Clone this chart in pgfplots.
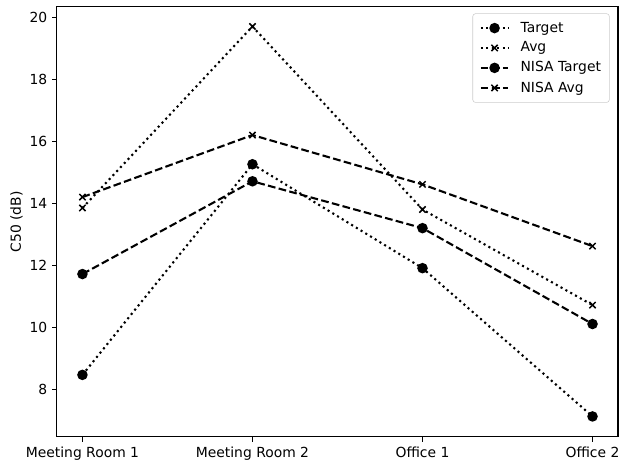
\documentclass[border=0pt]{standalone}
\usepackage{fontspec}
\setmainfont{DejaVu Sans}
\usepackage{pgfplots}
\pgfplotsset{compat=1.18}
\begin{document}
\begin{tikzpicture}
\begin{axis}[
  scale only axis,
  width=404pt, height=309.6pt,
  xmin=-0.15, xmax=3.15,
  ymin=6.47, ymax=20.33,
  xtick={0,1,2,3},
  xticklabels={Meeting Room 1,Meeting Room 2,Office 1,Office 2},
  ytick={8,10,12,14,16,18,20},
  tick align=outside,
  tick pos=left,
  major tick length=3.5pt,
  tick style={black, line width=0.8pt},
  axis line style={line width=0.8pt},
  /pgf/number format/assume math mode=true,
  ticklabel style={font=\fontsize{10}{12}\selectfont},
  ylabel={C50 (dB)},
  ylabel style={font=\fontsize{10}{12}\selectfont},
  ylabel shift=-2pt,
  legend style={at={(0.985,0.985)}, anchor=north east, draw=black!20, rounded corners=2pt,
    font=\fontsize{10}{12}\selectfont, row sep=3.5pt, inner xsep=5pt, inner ysep=5pt,
    nodes={inner sep=1pt},
    /tikz/every odd column/.append style={column sep=7pt}},
  legend cell align=left,
  legend image code/.code={\draw[mark repeat=2,mark phase=2] plot coordinates {(0cm,0cm) (0.35cm,0cm) (0.7cm,0cm)};},
  every axis plot/.append style={line width=1.5pt},
]
\addplot[black, dash pattern=on 1.5pt off 2.475pt, mark=*, mark size=3pt, mark options={solid}]
  coordinates {(0,8.47) (1,15.26) (2,11.91) (3,7.13)};
\addlegendentry{Target}
\addplot[black, dash pattern=on 1.5pt off 2.475pt, mark=x, mark size=3.2pt, mark options={solid, line width=1.1pt}]
  coordinates {(0,13.85) (1,19.70) (2,13.80) (3,10.72)};
\addlegendentry{Avg}
\addplot[black, dash pattern=on 5.55pt off 2.4pt, mark=*, mark size=3pt, mark options={solid}]
  coordinates {(0,11.72) (1,14.71) (2,13.20) (3,10.11)};
\addlegendentry{NISA Target}
\addplot[black, dash pattern=on 5.55pt off 2.4pt, mark=x, mark size=3.2pt, mark options={solid, line width=1.1pt}]
  coordinates {(0,14.20) (1,16.20) (2,14.61) (3,12.62)};
\addlegendentry{NISA Avg}
\end{axis}
\pgfresetboundingbox
\path[use as bounding box] ([shift={(-41pt,-19.4pt)}]current axis.south west) rectangle ([shift={(0.7pt,5pt)}]current axis.north east);
\end{tikzpicture}
\end{document}
